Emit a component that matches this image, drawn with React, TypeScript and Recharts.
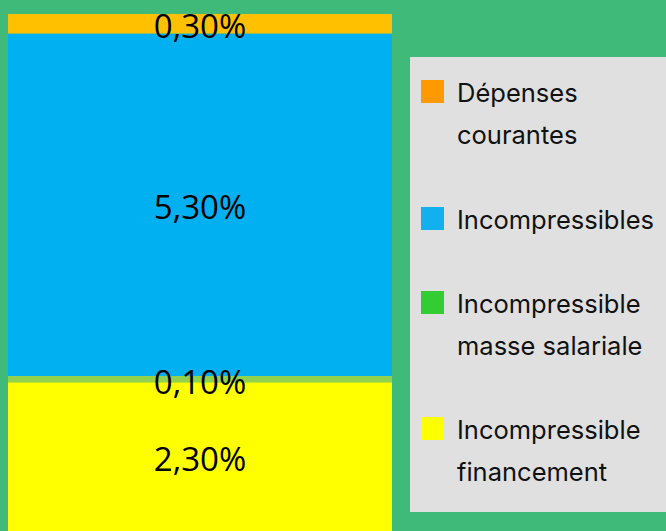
import * as React from "react";
import { Bar, BarChart, LabelList, Legend, XAxis, YAxis } from "recharts";

// stacking order: bottom first
const seriesKeys = ["financement", "masse", "incompressibles", "depenses"];
const seriesNames = [
  "Incompressible financement",
  "Incompressible masse salariale",
  "Incompressibles",
  "Dépenses courantes",
];
const seriesValues = [2.3, 0.1, 5.3, 0.3];
const barColors = ["#ffff00", "#92d050", "#00b0f0", "#ffc000"];
const legendColors = ["#ffff00", "#33cc33", "#13b0ef", "#ff9900"];
const legendLines = [
  ["Incompressible", "financement"],
  ["Incompressible", "masse salariale"],
  ["Incompressibles"],
  ["Dépenses", "courantes"],
];

const chartData = [
  seriesKeys.reduce(
    (acc, key, i) => ({ ...acc, [key]: seriesValues[i] }),
    { name: "total" } as Record<string, string | number>
  ),
];

const formatPct = (v: any) => Number(v).toFixed(2).replace(".", ",") + "%";

function LegendBox() {
  // legend reads top to bottom, opposite of stacking
  const order = [3, 2, 1, 0];
  const gaps = [43, 42, 42, 0];
  return (
    <div
      style={{
        width: 256,
        height: 455,
        background: "#e0e0e0",
        boxSizing: "border-box",
        paddingTop: 15,
        fontFamily: "Inter, sans-serif",
        fontSize: 25.5,
        lineHeight: "42px",
        color: "#111",
      }}
    >
      {order.map((idx, i) => (
        <div
          key={seriesKeys[idx]}
          style={{ display: "flex", alignItems: "flex-start", marginBottom: gaps[i] }}
        >
          <div
            style={{
              width: 23,
              height: 23,
              marginLeft: 11,
              marginTop: 8,
              marginRight: 13,
              background: legendColors[idx],
              flexShrink: 0,
            }}
          />
          <div>
            {legendLines[idx].map((line) => (
              <div key={line}>{line}</div>
            ))}
          </div>
        </div>
      ))}
    </div>
  );
}

export default function App() {
  return (
    <div
      style={{
        position: "absolute",
        left: 0,
        top: 0,
        width: 666,
        height: 531,
        background: "#3fba78",
      }}
    >
      <BarChart
        width={666}
        height={531}
        data={chartData}
        margin={{ top: 14, right: 274, bottom: 0, left: 8 }}
        barCategoryGap={0}
      >
        <XAxis dataKey="name" hide />
        <YAxis hide domain={[0, 8]} />
        <Legend
          layout="horizontal"
          verticalAlign="middle"
          align="center"
          wrapperStyle={{ left: 410, top: 57, width: 256, height: 455 }}
          content={() => <LegendBox />}
        />
        {seriesKeys.map((key, i) => (
          <Bar
            key={key}
            dataKey={key}
            name={seriesNames[i]}
            stackId="a"
            fill={barColors[i]}
            isAnimationActive={false}
          >
            <LabelList
              dataKey={key}
              position="center"
              formatter={formatPct}
              fill="#000"
              dy={3}
              style={{ fontFamily: "'Open Sans', sans-serif", fontSize: 33 }}
            />
          </Bar>
        ))}
      </BarChart>
    </div>
  );
}
